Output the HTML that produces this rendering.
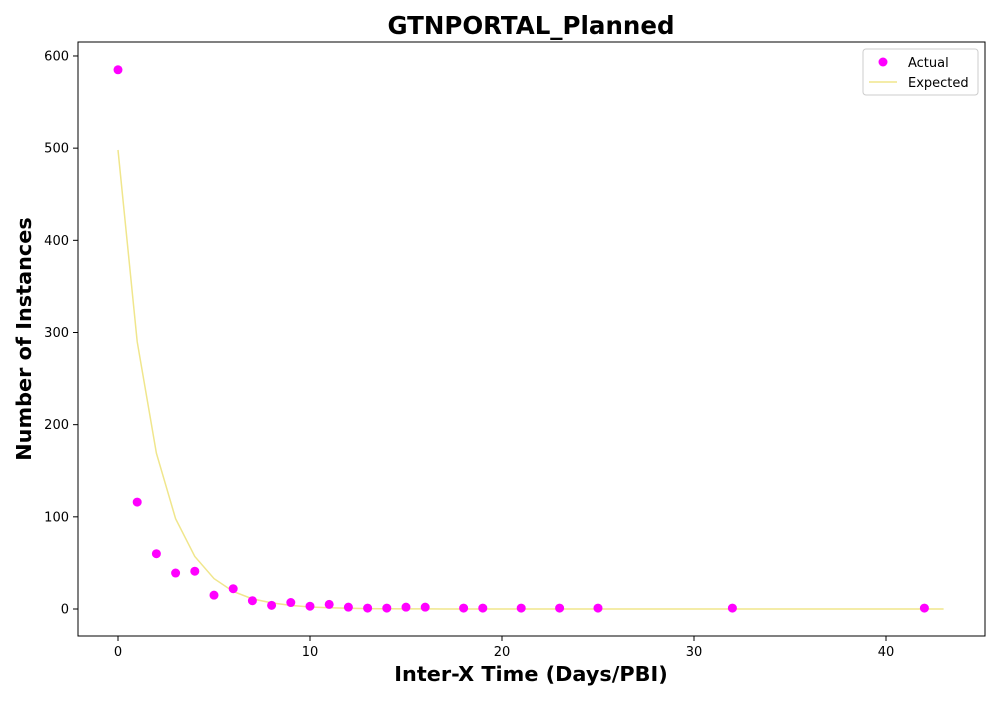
<!DOCTYPE html>
<html><head><meta charset="utf-8"><style>
body{margin:0;background:#fff;font-family:"DejaVu Sans","Liberation Sans",sans-serif;}
</style></head><body>
<svg id="chart" width="1000" height="700" xmlns="http://www.w3.org/2000/svg" font-family="DejaVu Sans, Liberation Sans, sans-serif">
<rect width="1000" height="700" fill="#fff"/>
<text x="531" y="34" text-anchor="middle" font-size="24.5" font-weight="bold">GTNPORTAL_Planned</text>
<text x="531" y="681" text-anchor="middle" font-size="20.8" font-weight="bold">Inter-X Time (Days/PBI)</text>
<text transform="translate(31,339) rotate(-90)" text-anchor="middle" font-size="20.8" font-weight="bold">Number of Instances</text>
<g id="ticks"></g>
<g id="marks"></g>
<rect x="78" y="42" width="907" height="594" fill="none" stroke="#000" stroke-width="1"/>
<g>
<rect x="863" y="49" width="115" height="46" rx="3" fill="#fff" stroke="#ccc"/>
<circle cx="883" cy="62" r="4.5" fill="#ff00ff"/>
<text x="908" y="67" font-size="13">Actual</text>
<line x1="869" y1="82" x2="897" y2="82" stroke="#f0e68c" stroke-width="1.5"/>
<text x="908" y="87" font-size="13">Expected</text>
</g>
</svg>
<script>
const actualX=[0,1,2,3,4,5,6,7,8,9,10,11,12,13,14,15,16,18,19,21,23,25,32,42];
const actualY=[585,116,60,39,41,15,22,9,4,7,3,5,2,1,1,2,2,1,1,1,1,1,1,1];
const expectedY=[498,290,169,98,57,33,19,11,6.6,3.9,2.2,1.3,0.8,0.4,0.3,0.15,0.1,0,0,0,0,0,0,0,0,0,0,0,0,0,0,0,0,0,0,0,0,0,0,0,0,0,0,0];
const xTicks=[0,10,20,30,40];
const yTicks=[0,100,200,300,400,500,600];
const NS="http://www.w3.org/2000/svg";
const sx=v=>118+v*19.2;
const sy=v=>609-v*0.9217;
const tk=document.getElementById('ticks'),mk=document.getElementById('marks');
function mkEl(t,a){const e=document.createElementNS(NS,t);for(const k in a)e.setAttribute(k,a[k]);return e;}
xTicks.forEach(v=>{
 const l=mkEl('line',{x1:sx(v),x2:sx(v),y1:636,y2:641,stroke:'#000'});
 
 
 tk.appendChild(l);
 const t=mkEl('text',{x:sx(v),y:656,'text-anchor':'middle','font-size':13});
 
 
 t.textContent=v;tk.appendChild(t);
});
yTicks.forEach(v=>{
 const l=mkEl('line',{x1:73,x2:78,y1:sy(v),y2:sy(v),stroke:'#000'});
 
 
 tk.appendChild(l);
 const t=mkEl('text',{x:69,y:sy(v)+4.5,'text-anchor':'end','font-size':13});
 
 
 t.textContent=v;tk.appendChild(t);
});
const pts=expectedY.map((v,i)=>sx(i)+','+sy(v)).join(' ');
const pl=mkEl('polyline',{points:pts,fill:'none',stroke:'#f0e68c','stroke-width':1.5});


mk.appendChild(pl);
actualX.forEach((x,i)=>{
 const c=mkEl('circle',{cx:sx(x),cy:sy(actualY[i]),r:4.5,fill:'#ff00ff'});
 
 
 mk.appendChild(c);
});
</script>
</body></html>
